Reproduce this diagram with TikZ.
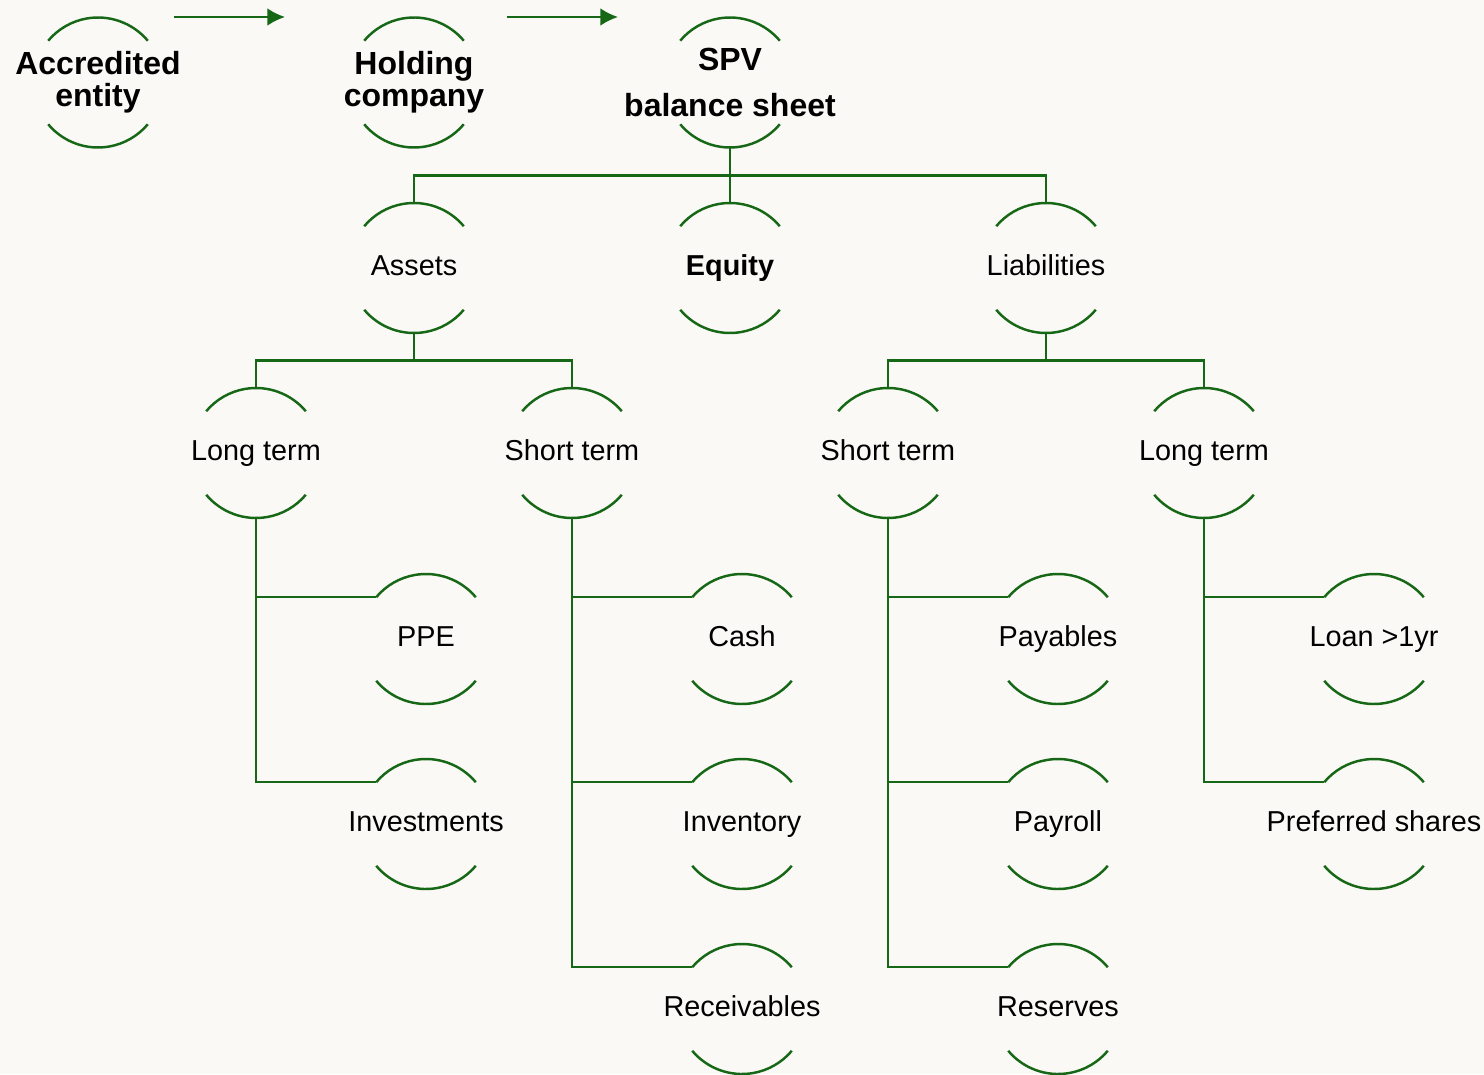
\documentclass[tikz,border=0pt]{standalone}
\usepackage{fontspec}
\setmainfont{Liberation Sans}
\usetikzlibrary{arrows.meta}
\definecolor{leaf}{RGB}{22,104,22}
\definecolor{paper}{RGB}{251,249,246}
\tikzset{
  ring/.style={circle, minimum size=1.3cm, inner sep=0pt, outer sep=0pt},
  ringarc/.style={draw=leaf, line width=.7pt},
  link/.style={draw=leaf, line width=.7pt},
  flow/.style={draw=leaf, line width=.6pt, -{Latex[length=5pt,width=5pt]}},
  plainlbl/.style={font=\fontsize{8.2}{9.5}\selectfont, text height=5.9pt, text depth=1.7pt},
  eqlbl/.style={plainlbl, font=\bfseries\fontsize{8.2}{9.5}\selectfont},
  boldlbl/.style={font=\bfseries\fontsize{9.1}{9.1}\selectfont, align=center},
}
\begin{document}
\begin{tikzpicture}
\fill[paper] (0,0) rectangle (14.84,-10.74);
\useasboundingbox (0,0) rectangle (14.84,-10.74);
% top row
\node[ring, label={[boldlbl]center:Accredited\\entity}] (acc) at (0.98,-0.825) {};
\node[ring, label={[boldlbl]center:Holding\\company}] (hold) at (4.14,-0.825) {};
\node[ring, label={[boldlbl]center:SPV\\[3.9pt]balance sheet}] (spv) at (7.30,-0.825) {};
\coordinate (f1s) at (1.74,-0.17);
\coordinate (f1e) at (2.85,-0.17);
\coordinate (f2s) at (5.07,-0.17);
\coordinate (f2e) at (6.18,-0.17);
\draw[flow] (f1s) -- (f1e);
\draw[flow] (f2s) -- (f2e);
% balance sheet parts
\node[ring, label={[plainlbl]center:Assets}] (assets) at (4.14,-2.68) {};
\node[ring, label={[eqlbl]center:Equity}] (equity) at (7.30,-2.68) {};
\node[ring, label={[plainlbl]center:Liabilities}] (liab) at (10.46,-2.68) {};
\node[ring, label={[plainlbl]center:Long term}] (ltA) at (2.56,-4.53) {};
\node[ring, label={[plainlbl]center:Short term}] (stA) at (5.72,-4.53) {};
\node[ring, label={[plainlbl]center:Short term}] (stL) at (8.88,-4.53) {};
\node[ring, label={[plainlbl]center:Long term}] (ltL) at (12.04,-4.53) {};
% leaves
\node[ring, label={[plainlbl]center:PPE}] (ppe) at (4.26,-6.39) {};
\node[ring, label={[plainlbl]center:Investments}] (invest) at (4.26,-8.24) {};
\node[ring, label={[plainlbl]center:Cash}] (cash) at (7.42,-6.39) {};
\node[ring, label={[plainlbl]center:Inventory}] (invent) at (7.42,-8.24) {};
\node[ring, label={[plainlbl]center:Receivables}] (receiv) at (7.42,-10.09) {};
\node[ring, label={[plainlbl]center:Payables}] (payab) at (10.58,-6.39) {};
\node[ring, label={[plainlbl]center:Payroll}] (payroll) at (10.58,-8.24) {};
\node[ring, label={[plainlbl]center:Reserves}] (reserv) at (10.58,-10.09) {};
\node[ring, label={[plainlbl]center:Loan >1yr}] (loan) at (13.74,-6.39) {};
\node[ring, label={[plainlbl]center:Preferred shares}] (prefsh) at (13.74,-8.24) {};
\foreach \n in {acc,hold,spv,assets,equity,liab,ltA,stA,stL,ltL,ppe,invest,cash,invent,receiv,payab,payroll,reserv,loan,prefsh} {
  \draw[ringarc] (\n.40) arc[start angle=40, end angle=140, radius=.65];
  \draw[ringarc] (\n.-140) arc[start angle=-140, end angle=-40, radius=.65];
}
% tree
\draw[link] (spv.south) -- (equity.north);
\draw[link] (assets.north) -- ++(0,.275) -| (liab.north);
\draw[link] (assets.south) -- ++(0,-.275) coordinate (busA);
\draw[link] (ltA.north) |- (busA) -| (stA.north);
\draw[link] (liab.south) -- ++(0,-.275) coordinate (busL);
\draw[link] (stL.north) |- (busL) -| (ltL.north);
\draw[link] (ltA.south) |- (ppe.140);
\draw[link] (ltA.south) |- (invest.140);
\draw[link] (stA.south) |- (cash.140);
\draw[link] (stA.south) |- (invent.140);
\draw[link] (stA.south) |- (receiv.140);
\draw[link] (stL.south) |- (payab.140);
\draw[link] (stL.south) |- (payroll.140);
\draw[link] (stL.south) |- (reserv.140);
\draw[link] (ltL.south) |- (loan.140);
\draw[link] (ltL.south) |- (prefsh.140);
\end{tikzpicture}
\end{document}
